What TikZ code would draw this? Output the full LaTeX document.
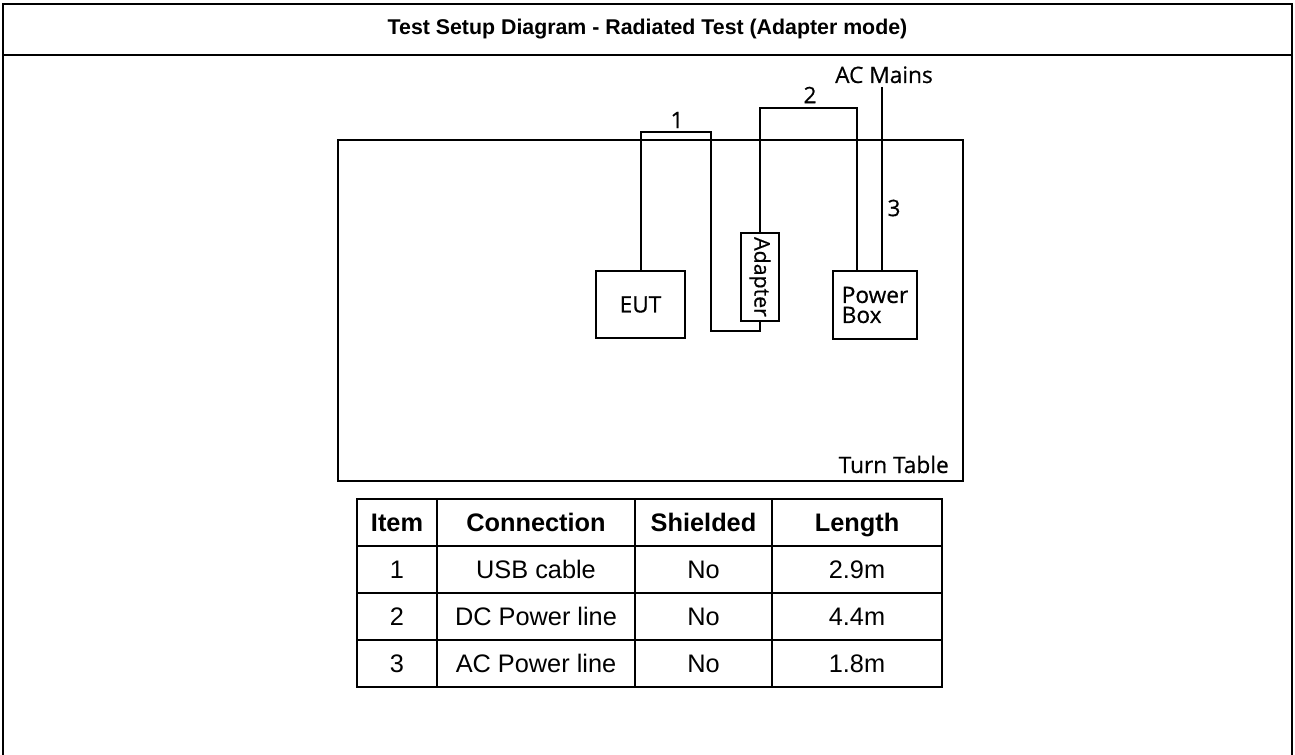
\documentclass[tikz,border=0pt]{standalone}
\usepackage{fontspec}
\setmainfont{Liberation Sans}
\newfontfamily\diagfont[FakeBold=0.5]{Open Sans}
\tikzset{
  unit/.style={draw, line width=1.5pt, inner sep=0pt, font=\diagfont\fontsize{17}{15}\selectfont},
  wire/.style={line width=1.5pt},
  lbl/.style={font=\diagfont\fontsize{17}{20}\selectfont, inner sep=0pt},
  cell/.style={font=\fontsize{19}{22}\selectfont, inner sep=0pt, anchor=base},
  head/.style={cell, font=\bfseries\fontsize{19}{22}\selectfont},
  grid/.style={line width=2pt}
}
\begin{document}
\begin{tikzpicture}[x=0.75pt,y=-0.75pt]
    \useasboundingbox (0,0) rectangle (1295,755);
    %% Frame
    \draw[line width=1.5pt] (3,755) -- (3,4) -- (1292,4) -- (1292,755);
    \draw[line width=1.5pt] (3,55) -- (1292,55);
    \node[font=\bfseries\fontsize{16}{19}\selectfont] (title) at (647.5,29.5) {Test Setup Diagram - Radiated Test (Adapter mode)};
    %% Turn table
    \draw[grid] (338,140) rectangle (963,481);
    \node[lbl, anchor=base east] (turntable) at (949,473) {Turn Table};
    %% Equipment
    \node[unit, minimum width=66.75pt, minimum height=50.25pt] (eut) at (640.5,304.5) {EUT};
    \node[unit, minimum width=28.5pt, minimum height=66pt] (adapter) at (760,277) {};
    \node[lbl, font=\diagfont\fontsize{16}{18}\selectfont, rotate=-90] (adapterlbl) at (adapter.center) {Adapter};
    \node[unit, minimum width=63pt, minimum height=51pt, align=left] (pbox) at (875,305) {Power\\Box};
    %% Cables
    \coordinate (usbtop) at (711,132);
    \coordinate (usbbot) at (711,331);
    \draw[wire] (eut.north) |- (usbtop) -- (usbbot) -| (adapter.south);
    \node[lbl] (n1) at (677,120) {1};
    \coordinate (dctop) at (857,108);
    \draw[wire] (adapter.north) |- (dctop) -- (dctop |- pbox.north);
    \node[lbl] (n2) at (810,95) {2};
    \coordinate (mains) at (882,87);
    \draw[wire] (mains) -- (mains |- pbox.north);
    \node[lbl, anchor=base] (acmains) at (884,83) {AC Mains};
    \node[lbl] (n3) at (894,208) {3};
    %% Table
    \draw[grid] (357,499) rectangle (942,687);
    \foreach \y in {546,593,640}
        \draw[grid] (357,\y) -- (942,\y);
    \foreach \x in {437,635,772}
        \draw[grid] (\x,499) -- (\x,687);
    \foreach \x/\t [count=\c] in {397/Item,536/Connection,703.5/Shielded,857/Length}
        \node[head] (h\c) at (\x,531.5) {\t};
    \foreach \y/\i/\conn/\len in {578.5/1/USB cable/2.9m,625.5/2/DC Power line/4.4m,672.5/3/AC Power line/1.8m} {
        \node[cell] (item\i) at (397,\y) {\i};
        \node[cell] (conn\i) at (536,\y) {\conn};
        \node[cell] (shield\i) at (703.5,\y) {No};
        \node[cell] (len\i) at (857,\y) {\len};
    }
\end{tikzpicture}
\end{document}
